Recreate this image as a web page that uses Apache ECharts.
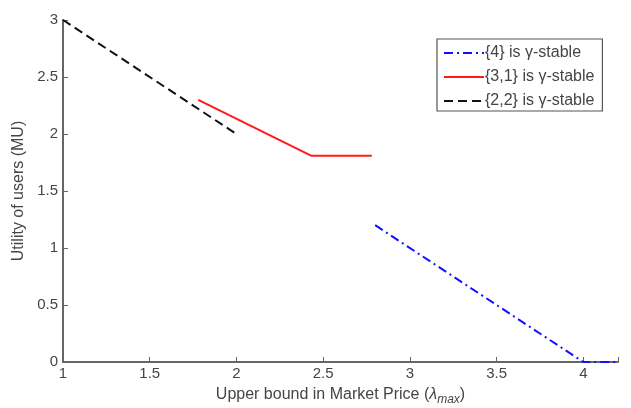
<!DOCTYPE html>
<html><head><meta charset="utf-8">
<script src="https://cdn.jsdelivr.net/npm/echarts@6/dist/echarts.min.js"></script>
<style>html,body{margin:0;padding:0;background:#fff}#c{width:631px;height:408px}</style>
</head><body><div id="c"></div>
<script>
var seriesNames = ['{4} is γ-stable', '{3,1} is γ-stable', '{2,2} is γ-stable'];
var set4 = [[2.8, 1.2], [4.0, 0.0], [4.2, 0.0]];
var set31 = [[1.78, 2.3], [2.43, 1.81], [2.78, 1.81]];
var set22 = [[1.0, 3.0], [2.0, 2.0]];
var xTicks = [1, 1.5, 2, 2.5, 3, 3.5, 4];
var yTicks = [0, 0.5, 1, 1.5, 2, 2.5, 3];

var font = 'Liberation Sans, Arial, sans-serif';
var txt = '#454545';
var chart = echarts.init(document.getElementById('c'));
chart.setOption({
  animation: false,
  backgroundColor: '#fff',
  grid: {left: 63, right: 13, top: 20, bottom: 46, containLabel: false, outerBoundsMode: 'none'},
  legend: {
    orient: 'vertical', left: 437, top: 39,
    itemWidth: 40, itemHeight: 10, itemGap: 8,
    padding: [6, 8, 2, 6],
    borderColor: '#555', borderWidth: 1.2, backgroundColor: '#fff',
    itemStyle: {opacity: 0},
    textStyle: {fontFamily: font, fontSize: 16, color: txt, padding: [0,0,0,-4]},
    data: seriesNames.map(function(n){return {name:n};})
  },
  xAxis: {
    type: 'value', min: 1, max: 4.2, interval: 0.5,
    name: 'Upper bound in Market Price ({i|λ}{s|max})',
    nameLocation: 'middle', nameGap: 22,
    nameTextStyle: {fontFamily: font, fontSize: 16, color: txt,
      rich: {i:{fontStyle:'italic', fontSize:16, color:txt, fontFamily: font},
             s:{fontStyle:'italic', fontSize:12, color:txt, fontFamily: font, verticalAlign:'bottom', padding:[10,0,0,0]}}},
    axisLine: {lineStyle: {color: '#666', width: 2}},
    axisTick: {inside: true, length: 5, lineStyle: {color: '#666'}},
    axisLabel: {fontFamily: font, fontSize: 15, color: txt, margin: 4,
      formatter: function(v){ return xTicks.indexOf(v) >= 0 ? String(v) : ''; }},
    splitLine: {show: false}
  },
  yAxis: {
    type: 'value', min: 0, max: 3, interval: 0.5,
    name: 'Utility of users (MU)', nameLocation: 'middle', nameGap: 35,
    nameTextStyle: {fontFamily: font, fontSize: 16, color: txt},
    axisLine: {show: true, lineStyle: {color: '#666', width: 2}},
    axisTick: {show: true, inside: true, length: 5, lineStyle: {color: '#666'}},
    axisLabel: {fontFamily: font, fontSize: 15, color: txt, margin: 5,
      formatter: function(v){ return yTicks.indexOf(v) >= 0 ? String(v) : ''; }},
    splitLine: {show: false}
  },
  series: [
    {name: seriesNames[0], type: 'line', data: set4, symbol: 'none',
     lineStyle: {color: '#1010ff', width: 2, type: [9, 4, 2, 4]}, itemStyle: {color: '#1010ff'}},
    {name: seriesNames[1], type: 'line', data: set31, symbol: 'none',
     lineStyle: {color: '#ff1a1a', width: 2, type: 'solid'}, itemStyle: {color: '#ff1a1a'}},
    {name: seriesNames[2], type: 'line', data: set22, symbol: 'none',
     lineStyle: {color: '#111', width: 2, type: [9, 5]}, itemStyle: {color: '#111'}}
  ]
});
</script></body></html>
